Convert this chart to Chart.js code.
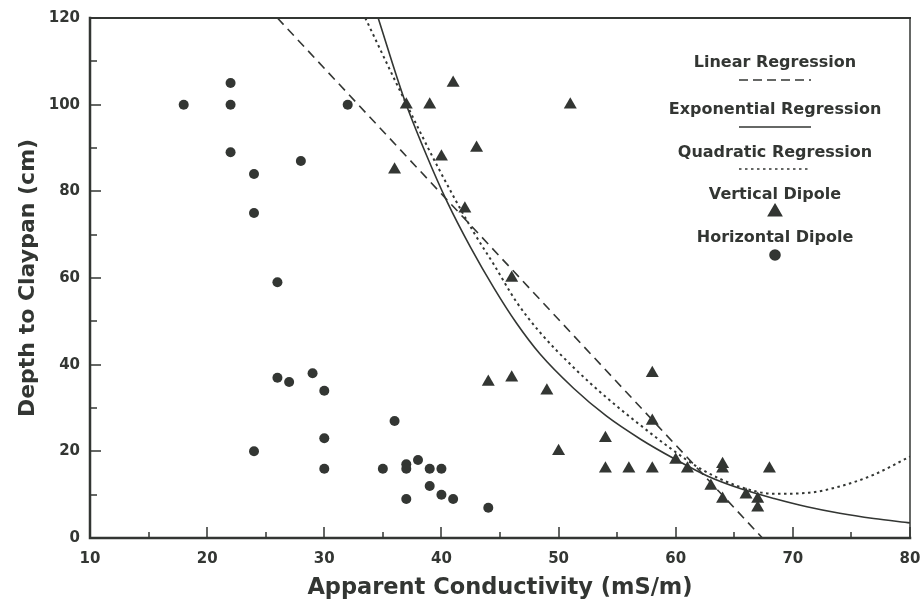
<!DOCTYPE html>
<html lang="en">
<head>
<meta charset="UTF-8">
<title>Depth to Claypan vs Apparent Conductivity</title>
<script src="https://cdn.jsdelivr.net/npm/chart.js"></script>
<style>
  body { margin: 0; background: #fff; }
</style>
</head>
<body>
<canvas id="claypanChart" width="921" height="601"></canvas>
<script>
// Axis ticks
const xTicks = [10, 20, 30, 40, 50, 60, 70, 80];
const xMinorTicks = [15, 25, 35, 45, 55, 65, 75];
const yTicks = [0, 20, 40, 60, 80, 100, 120];
const yMinorTicks = [10, 30, 50, 70, 90, 110];

// Vertical dipole readings (triangles)
const verticalX = [37, 39, 36, 40, 41, 51, 43, 42, 46, 44, 46, 49, 58, 58, 54, 50, 54, 56, 58, 60, 61, 64, 64, 68, 63, 64, 66, 67, 67];
const verticalY = [100, 100, 85, 88, 105, 100, 90, 76, 60, 36, 37, 34, 38, 27, 23, 20, 16, 16, 16, 18, 16, 17, 16, 16, 12, 9, 10, 9, 7];

// Horizontal dipole readings (circles)
const horizontalX = [18, 22, 22, 22, 24, 24, 28, 32, 26, 24, 26, 27, 29, 30, 30, 30, 35, 36, 37, 37, 37, 38, 39, 39, 40, 40, 41, 44];
const horizontalY = [100, 105, 100, 89, 84, 75, 87, 100, 59, 20, 37, 36, 38, 34, 23, 16, 16, 27, 17, 16, 9, 18, 16, 12, 16, 10, 9, 7];

// Regression curves
const linearX = [26, 67.4];
const linearY = [120, 0];
const expX = [34.6, 36.8, 38.7, 40.5, 42.5, 44.5, 46.4, 48.4, 51.3, 54.1, 57, 59.8, 62.7, 65.5, 68.4, 71.2, 74, 76.9, 80];
const expY = [120, 101.5, 88.5, 77.5, 67, 57.6, 49.6, 42.5, 34.5, 28.1, 22.8, 18.4, 14.3, 11.4, 9.1, 7.2, 5.7, 4.5, 3.5];
const quadX = [33.5, 36.5, 39.6, 42.7, 44.5, 46.4, 48.4, 51.3, 54.1, 57, 59.5, 62.1, 65.5, 68.4, 71.2, 74, 76.9, 80];
const quadY = [120, 103, 86.1, 70.8, 63, 54.5, 47.5, 39.3, 32.4, 26, 20.8, 16, 11.8, 10.2, 10.4, 11.9, 14.6, 18.8];

const ink = '#333633';
const fontFamily = '"DejaVu Sans", sans-serif';

function pairs(xs, ys) {
  return xs.map((v, i) => ({ x: v, y: ys[i] }));
}

// frame box plus inward tick marks
const frameAndTicks = {
  id: 'frameAndTicks',
  afterDraw(chart) {
    const { ctx, chartArea: a, scales: { x, y } } = chart;
    ctx.save();
    ctx.strokeStyle = ink;
    ctx.lineCap = 'square';

    ctx.lineWidth = 2;
    ctx.beginPath();
    ctx.moveTo(a.left, a.top);
    ctx.lineTo(a.right, a.top);
    ctx.stroke();

    ctx.lineWidth = 1.5;
    ctx.beginPath();
    ctx.moveTo(a.right, a.top);
    ctx.lineTo(a.right, a.bottom);
    ctx.stroke();

    ctx.lineWidth = 2.5;
    ctx.beginPath();
    ctx.moveTo(a.left, a.top);
    ctx.lineTo(a.left, a.bottom);
    ctx.lineTo(a.right, a.bottom);
    ctx.stroke();

    ctx.lineCap = 'butt';
    ctx.lineWidth = 1.5;
    ctx.beginPath();
    xTicks.forEach(v => {
      const px = Math.round(x.getPixelForValue(v));
      ctx.moveTo(px, a.bottom);
      ctx.lineTo(px, a.bottom - 11);
    });
    xMinorTicks.forEach(v => {
      const px = Math.round(x.getPixelForValue(v));
      ctx.moveTo(px, a.bottom);
      ctx.lineTo(px, a.bottom - 6);
    });
    yTicks.forEach(v => {
      const py = Math.round(y.getPixelForValue(v));
      ctx.moveTo(a.left, py);
      ctx.lineTo(a.left + 11, py);
    });
    yMinorTicks.forEach(v => {
      const py = Math.round(y.getPixelForValue(v));
      ctx.moveTo(a.left, py);
      ctx.lineTo(a.left + 7, py);
    });
    ctx.stroke();
    ctx.restore();
  }
};

// legend inside the plot: label above, sample below
const stackedLegend = {
  id: 'stackedLegend',
  afterDraw(chart) {
    const { ctx, chartArea: a } = chart;
    const cx = a.right - 135;
    const top = a.top;
    ctx.save();
    ctx.fillStyle = ink;
    ctx.strokeStyle = ink;
    ctx.font = 'bold 16px ' + fontFamily;
    ctx.textAlign = 'center';
    ctx.textBaseline = 'middle';

    const labels = ['Linear Regression', 'Exponential Regression', 'Quadratic Regression', 'Vertical Dipole', 'Horizontal Dipole'];
    const rows = [45, 92, 135, 177, 220];
    labels.forEach((t, i) => ctx.fillText(t, cx, top + rows[i]));

    const samples = [[9, 5], [], [2.5, 3.5]];
    const sampleY = [62, 109, 151];
    ctx.lineWidth = 1.6;
    samples.forEach((dash, i) => {
      ctx.setLineDash(dash);
      ctx.beginPath();
      ctx.moveTo(cx - 36, top + sampleY[i]);
      ctx.lineTo(cx + 36, top + sampleY[i]);
      ctx.stroke();
    });
    ctx.setLineDash([]);

    Chart.helpers.drawPoint(ctx, { pointStyle: 'triangle', radius: 7.5, borderWidth: 1 }, cx, top + 194);
    ctx.fill();
    Chart.helpers.drawPoint(ctx, { pointStyle: 'circle', radius: 5, borderWidth: 1 }, cx, top + 237);
    ctx.fill();
    ctx.restore();
  }
};

new Chart(document.getElementById('claypanChart'), {
  type: 'scatter',
  data: {
    datasets: [
      {
        label: 'Linear Regression',
        data: pairs(linearX, linearY),
        showLine: true,
        pointRadius: 0,
        borderColor: ink,
        borderWidth: 1.6,
        borderDash: [9, 6]
      },
      {
        label: 'Exponential Regression',
        data: pairs(expX, expY),
        showLine: true,
        pointRadius: 0,
        borderColor: ink,
        borderWidth: 1.6,
        cubicInterpolationMode: 'monotone'
      },
      {
        label: 'Quadratic Regression',
        data: pairs(quadX, quadY),
        showLine: true,
        pointRadius: 0,
        borderColor: ink,
        borderWidth: 2,
        borderDash: [2.5, 3.5],
        cubicInterpolationMode: 'monotone'
      },
      {
        label: 'Vertical Dipole',
        data: pairs(verticalX, verticalY),
        pointStyle: 'triangle',
        pointRadius: 7.5,
        backgroundColor: ink,
        borderColor: ink,
        borderWidth: 0
      },
      {
        label: 'Horizontal Dipole',
        data: pairs(horizontalX, horizontalY),
        pointStyle: 'circle',
        pointRadius: 5,
        backgroundColor: ink,
        borderColor: ink,
        borderWidth: 0
      }
    ]
  },
  options: {
    responsive: false,
    devicePixelRatio: 1,
    animation: false,
    layout: { padding: { top: 18, right: 11, left: 0, bottom: 0 } },
    plugins: {
      legend: { display: false },
      tooltip: { enabled: false }
    },
    scales: {
      x: {
        type: 'linear',
        min: 10,
        max: 80,
        afterBuildTicks: s => { s.ticks = xTicks.map(v => ({ value: v })); },
        afterFit: s => { s.height = 63; s.paddingLeft = 0; s.paddingRight = 0; },
        grid: { display: false, drawTicks: false },
        border: { display: false },
        ticks: {
          color: ink,
          font: { family: fontFamily, size: 15, weight: 'bold' },
          padding: 12,
          maxRotation: 0,
          autoSkip: false
        },
        title: {
          display: true,
          text: 'Apparent Conductivity (mS/m)',
          color: ink,
          font: { family: fontFamily, size: 22.5, weight: 'bold' },
          padding: { top: 0, bottom: -1 }
        }
      },
      y: {
        type: 'linear',
        min: 0,
        max: 120,
        afterBuildTicks: s => { s.ticks = yTicks.map(v => ({ value: v })); },
        afterFit: s => { s.width = 90; s.paddingTop = 0; s.paddingBottom = 0; },
        grid: { display: false, drawTicks: false },
        border: { display: false },
        ticks: {
          color: ink,
          font: { family: fontFamily, size: 15, weight: 'bold' },
          padding: 10,
          autoSkip: false
        },
        title: {
          display: true,
          text: 'Depth to Claypan (cm)',
          color: ink,
          font: { family: fontFamily, size: 22, weight: 'bold' },
          padding: { top: 15, bottom: 0 }
        }
      }
    }
  },
  plugins: [frameAndTicks, stackedLegend]
});
</script>
</body>
</html>
